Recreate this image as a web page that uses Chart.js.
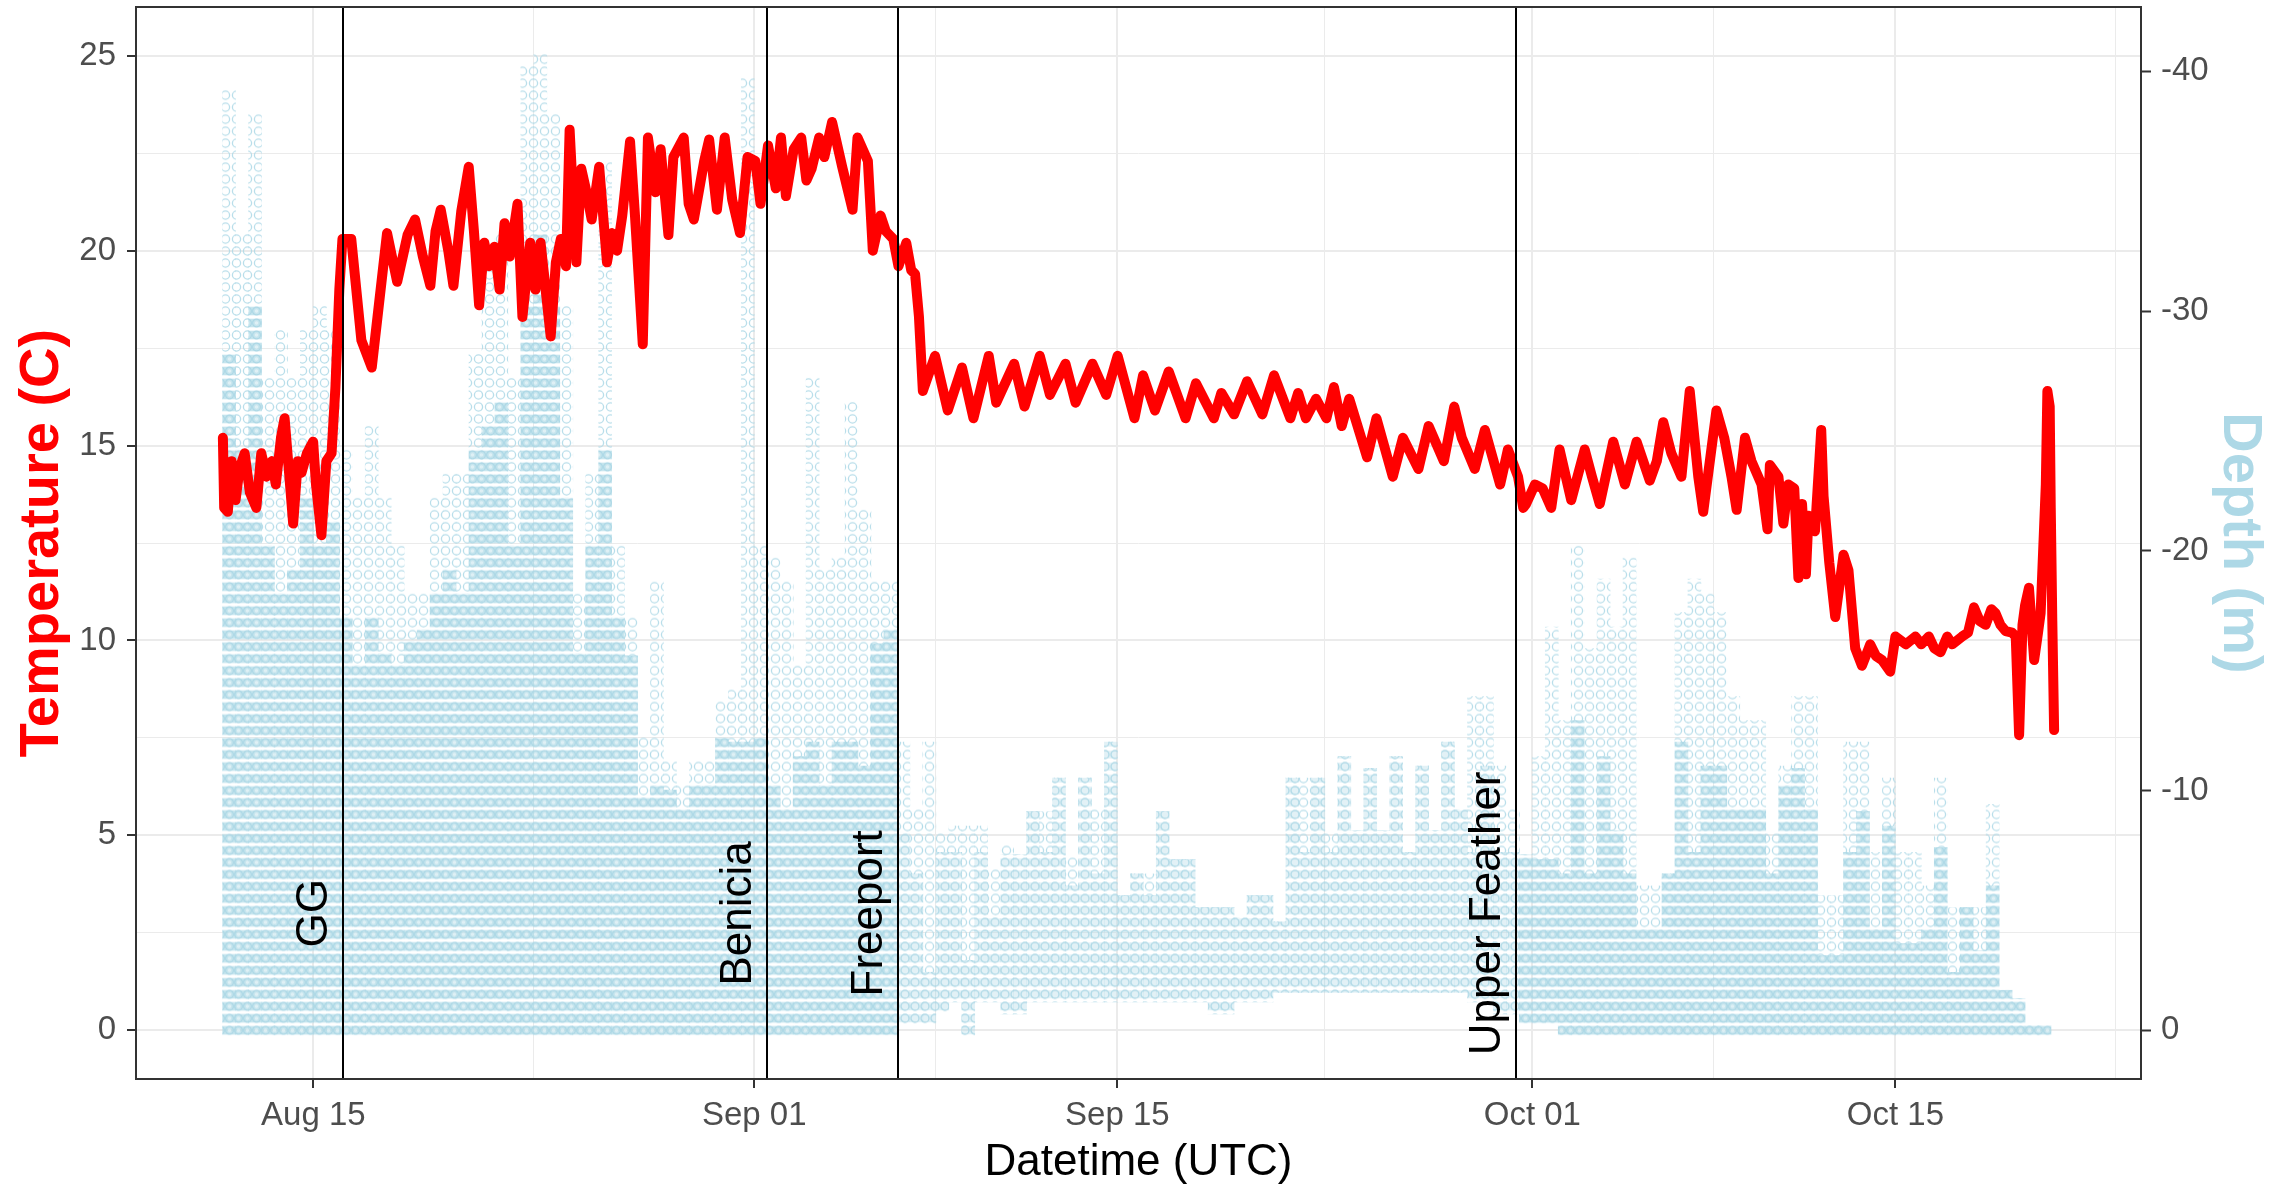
<!DOCTYPE html>
<html>
<head>
<meta charset="utf-8">
<script src="https://cdn.jsdelivr.net/npm/chart.js@4.4.1/dist/chart.umd.min.js"></script>
<style>
html,body{margin:0;padding:0;background:#ffffff;}
canvas{display:block;}
</style>
</head>
<body>
<canvas id="c" width="2289" height="1190"></canvas>
<script>
// ---------- axis ticks (x values are days counted from Jul 31, i.e. Aug 1 = 1) ----------
const xTickDays   = [15, 32, 46, 62, 76];
const xTickLabels = ['Aug 15', 'Sep 01', 'Sep 15', 'Oct 01', 'Oct 15'];
const xMinorDays  = [23.5, 39, 54, 69, 84.5];
const tempTicks      = [0, 5, 10, 15, 20, 25];
const tempMinorTicks = [2.5, 7.5, 12.5, 17.5, 22.5];
const depthTicks     = [0, -10, -20, -30, -40];

// ---------- receiver sites (vertical lines) ----------
const siteNames = ['GG', 'Benicia', 'Freeport', 'Upper Feather'];
const siteDays  = [16.15, 32.49, 37.56, 61.39];
const siteLabelTemp = 3;

// ---------- temperature series (C) ----------
const tempDays = [
 11.51,11.56,11.70,11.85,12.00,12.15,12.35,12.55,12.80,12.99,13.20,13.40,13.55,13.75,13.89,14.05,14.22,14.40,14.54,14.75,14.99,15.10,15.31,15.50,15.70,15.85,16.00,16.12,
 16.46,16.85,17.25,17.84,18.23,18.63,18.92,19.22,19.51,19.71,19.91,20.20,20.40,20.70,20.99,21.19,21.39,21.59,21.78,21.98,22.18,22.37,22.57,22.87,23.06,23.36,23.56,23.76,
 24.15,24.35,24.54,24.74,24.88,25.14,25.33,25.53,25.73,26.02,26.32,26.52,26.71,26.91,27.21,27.40,27.70,27.90,28.19,28.39,28.69,28.88,29.28,29.47,29.67,30.07,30.26,30.56,
 30.86,31.15,31.45,31.74,32.04,32.24,32.53,32.83,33.03,33.22,33.52,33.81,34.01,34.21,34.50,34.70,35.00,35.39,35.59,35.79,35.98,36.18,36.38,36.57,36.87,37.07,37.36,37.56,
 37.86,38.05,38.20,38.35,38.50,
 38.97,39.46,40.01,40.45,41.04,41.33,42.02,42.42,43.01,43.40,44.00,44.39,45.04,45.57,46.01,46.66,46.99,47.45,47.98,48.63,49.03,49.72,50.01,50.50,51.00,51.59,52.04,52.67,
 52.97,53.27,53.66,54.06,54.35,54.65,54.94,55.63,55.99,56.62,57.01,57.61,58.00,58.59,58.99,59.28,59.78,60.17,60.76,61.06,61.45,61.65,
 61.76,62.10,62.40,62.73,63.05,63.50,64.02,64.30,64.60,65.12,65.57,66.02,66.53,66.80,67.05,67.36,67.75,68.07,68.40,
 68.59,69.10,69.40,69.68,69.88,70.20,70.45,70.84,71.07,71.16,71.49,71.68,71.87,72.10,72.26,72.40,72.55,72.65,72.90,73.14,73.23,73.45,73.68,74.00,74.19,74.45,74.71,75.03,
 75.25,75.48,75.80,76.00,76.40,76.77,77.00,77.29,77.50,77.74,78.00,78.19,78.57,78.80,79.03,79.25,79.48,79.70,79.86,80.05,80.25,80.50,80.64,80.77,80.90,81.00,81.15,81.35,
 81.50,81.60,81.80,81.86,81.95,81.99,82.05,82.12
];
const tempValues = [
 15.2,13.4,13.3,14.6,13.6,14.4,14.8,13.8,13.4,14.8,14.2,14.6,14.0,15.2,15.7,14.4,13.0,14.6,14.3,14.8,15.1,14.0,12.7,14.6,14.8,16.5,19.0,20.3,
 20.3,17.7,17.0,20.45,19.2,20.4,20.8,19.85,19.1,20.5,21.05,20.0,19.1,21.0,22.15,20.5,18.6,20.2,19.6,20.1,19.0,20.7,19.85,21.2,18.3,20.2,19.0,20.2,
 17.8,19.7,20.3,19.6,23.1,19.7,22.1,21.5,20.8,22.15,19.7,20.45,20.0,20.9,22.8,20.9,17.6,22.9,21.5,22.6,20.4,22.4,22.9,21.2,20.8,22.3,22.85,21.05,
 22.9,21.3,20.45,22.4,22.3,21.2,22.7,21.6,22.9,21.4,22.6,22.9,21.8,22.1,22.9,22.4,23.3,22.15,21.6,21.05,22.9,22.6,22.3,20.0,20.9,20.5,20.3,19.6,
 20.2,19.5,19.4,18.3,16.4,
 17.3,15.9,17.0,15.7,17.3,16.1,17.1,16.0,17.3,16.3,17.1,16.1,17.1,16.3,17.3,15.7,16.8,15.9,16.9,15.7,16.6,15.7,16.35,15.8,16.65,15.8,16.8,15.7,
 16.35,15.7,16.2,15.7,16.5,15.5,16.2,14.7,15.7,14.2,15.2,14.4,15.5,14.6,16.0,15.2,14.4,15.4,14.0,14.9,14.2,13.4,
 13.5,14.0,13.9,13.4,14.9,13.6,14.9,14.2,13.5,15.1,14.0,15.1,14.1,14.6,15.6,14.8,14.2,16.4,14.2,
 13.3,15.9,15.2,14.2,13.35,15.2,14.6,14.0,12.85,14.5,14.2,13.0,14.0,13.9,11.6,13.5,11.7,13.2,12.8,15.4,13.7,12.0,10.6,12.2,11.8,9.8,9.35,9.9,
 9.6,9.5,9.2,10.1,9.9,10.1,9.9,10.1,9.8,9.7,10.1,9.9,10.1,10.2,10.85,10.5,10.4,10.8,10.7,10.4,10.24,10.2,10.1,7.57,10.4,10.9,11.35,9.5,
 10.2,10.7,14.0,16.4,16.0,13.4,10.5,7.7
];

// ---------- depth detections (m), summarised per half-day bin ----------
const depthDays = [
 11.75,12.25,12.75,13.25,13.75,14.25,14.75,15.25,15.75,16.25,
 16.75,17.25,17.75,18.25,18.75,19.25,19.75,20.25,20.75,21.25,
 21.75,22.25,22.75,23.25,23.75,24.25,24.75,25.25,25.75,26.25,
 26.75,27.25,27.75,28.25,28.75,29.25,29.75,30.25,30.75,31.25,
 31.75,32.25,32.75,33.25,33.75,34.25,34.75,35.25,35.75,36.25,
 36.75,37.25,37.75,38.25,38.75,39.25,39.75,40.25,40.75,41.25,
 41.75,42.25,42.75,43.25,43.75,44.25,44.75,45.25,45.75,46.25,
 46.75,47.25,47.75,48.25,48.75,49.25,49.75,50.25,50.75,51.25,
 51.75,52.25,52.75,53.25,53.75,54.25,54.75,55.25,55.75,56.25,
 56.75,57.25,57.75,58.25,58.75,59.25,59.75,60.25,60.75,61.25,
 61.75,62.25,62.75,63.25,63.75,64.25,64.75,65.25,65.75,66.25,
 66.75,67.25,67.75,68.25,68.75,69.25,69.75,70.25,70.75,71.25,
 71.75,72.25,72.75,73.25,73.75,74.25,74.75,75.25,75.75,76.25,
 76.75,77.25,77.75,78.25,78.75,79.25,79.75,80.25,80.75,81.25,
 81.75
];
// shallowest depth of the bin (rows start here)
const depthBottom = [
 0,0,0,0,0,0,0,0,0,0,
 0,0,0,0,0,0,0,0,0,0,
 0,0,0,0,0,0,0,0,0,0,
 0,0,0,0,0,0,0,0,0,0,
 0,0,0,0,0,0,0,0,0,0,
 0,0,-0.5,-0.5,-0.5,-1,-1.4,0,-1.4,-1.4,
 -0.9,-0.9,-1.4,-1.4,-1.4,-1.4,-1.4,-1.4,-1.4,-1.4,
 -1.4,-1.4,-1.4,-1.4,-1.4,-1.4,-0.9,-0.9,-1.4,-1.4,
 -1.4,-1.8,-1.8,-1.8,-1.8,-1.8,-1.8,-1.8,-1.8,-1.8,
 -1.8,-1.8,-1.8,-1.8,-1.8,-1.8,-1.4,-1.4,-0.9,-0.9,
 -0.5,-0.5,-0.5,0,0,0,0,0,0,0,
 0,0,0,0,0,0,0,0,0,0,
 0,0,0,0,0,0,0,0,0,0,
 0,0,0,0,0,0,0,0,0,0,
 0
];
// deepest depth of the closely packed detections
const depthDenseTop = [
 -28,-24,-30,-20,-18,-19,-22,-20,-21,-17,
 -15,-17,-15.5,-15,-16,-16.5,-18,-19,-18,-24,
 -25,-26,-20,-30,-33,-30,-22,-15.5,-20,-24,
 -17,-15.4,-9.5,-10,-9.8,-9,-10,-10,-12,-11.8,
 -11.8,-12,-10,-9,-11.2,-11.8,-10,-11.8,-11.8,-10.8,
 -15.9,-16.5,-8,-6.3,-2.2,-7.2,-7.2,-2.7,-7.2,-4.5,
 -7.1,-7.1,-8.9,-7.2,-10.3,-5.8,-10.3,-6.3,-11.8,-5.4,
 -6.3,-5.4,-8.9,-6.9,-6.9,-4.9,-4.9,-4.9,-4.5,-5.4,
 -5.4,-4.3,-10.3,-7.2,-10.3,-7.2,-11.2,-8.1,-10.7,-8.1,
 -11.2,-7.2,-10.8,-8.1,-11.8,-9,-7.2,-10.8,-7.2,-7.2,
 -7.1,-6.9,-6.9,-6.3,-12.7,-6.3,-11.2,-8.1,-6.3,-4,
 -4,-6.3,-11.8,-7.2,-10.8,-10.8,-9,-9,-9,-6.3,
 -10,-10.7,-9,-2.9,-2.9,-7.2,-8.9,-4,-8.3,-3.4,
 -3.4,-4,-7.4,-2.2,-4.9,-3.1,-5.8,-1.45,-1.1,0,
 0
];
// how tightly packed that part is: 2 = overlapping circles, 1 = separate circles
const depthDensity = [
 2,2,2,2,2,2,2,2,2,2,
 2,2,2,2,2,2,2,2,2,2,
 2,2,2,2,2,2,2,2,2,2,
 2,2,2,2,2,2,2,2,2,2,
 2,2,2,2,2,2,2,2,2,2,
 2,2,1,1,1,1,1,1,1,1,
 1,1,1,1,1,1,1,1,1,1,
 1,1,1,1,1,1,1,1,1,1,
 1,1,1,1,1,1,1,1,1,1,
 1,1,1,1,1,1,1,1,1,1,
 2,2,2,2,2,2,2,2,2,2,
 2,2,2,2,2,2,2,2,2,2,
 2,2,2,2,2,2,2,2,2,2,
 2,2,2,2,2,2,2,2,2,2,
 2
];
// deepest scattered detections of the bin
const depthSparseTop = [
 -39,-33,-38,-27,-29,-27,-29,-30,-29,-24,
 -22,-25,-22,-20,-18,-18,-22,-23,-23,-28,
 -32,-33,-27,-40,-40.5,-38,-30,-18,-23,-36,
 -20,-17,-12,-18.5,-11,-10,-11,-11,-13.5,-14,
 -39.5,-20,-19.5,-18.5,-15,-27,-19,-19.5,-26,-21.5,
 -18.5,-18.5,-11.8,-9,-11.8,-8,-8.3,-8.3,-8.3,-6.5,
 -7.5,-7.1,-8.9,-8.9,-10.3,-7,-10.3,-9,-11.8,-5.4,
 -6.3,-6.3,-8.9,-6.9,-6.9,-4.9,-4.9,-4.9,-4.5,-5.4,
 -5.4,-4.3,-10.3,-10.3,-10.3,-8,-11.2,-8.1,-10.7,-8.1,
 -11.2,-7.2,-10.8,-8.1,-11.8,-9,-13.7,-13.7,-10.8,-9,
 -7.1,-11.2,-16.6,-12.7,-20,-15.7,-18.6,-16.6,-19.5,-5.8,
 -5.8,-6.3,-17.2,-18.6,-18,-17.2,-13.7,-12.7,-12.7,-8,
 -10.8,-13.7,-13.7,-5.4,-5.4,-11.8,-11.8,-7.2,-10.3,-7.2,
 -7.2,-5.8,-10.3,-4.9,-4.9,-4.9,-9.2,-1.45,-1.1,0,
 0
];

// ---------- styling ----------
const FONT = '"Liberation Sans", Arial, Helvetica, sans-serif';
const GRID = '#EBEBEB';
const DARK = '#333333';
const TICKTXT = '#4D4D4D';
const LIGHTBLUE = '#ADD8E6';
const CIRCLE_HALF = 0.22;   // half a marker, in metres
Chart.defaults.font.family = FONT;

const xAll = xTickDays.concat(xMinorDays).sort((a, b) => a - b);
const yAll = tempTicks.concat(tempMinorTicks).sort((a, b) => a - b);
const isXMajor = v => xTickDays.includes(v);
const isYMajor = v => tempTicks.includes(v);

// hollow-circle textures for the depth detections
const patCache = {};
function depthPattern(chart, kind) {
  const ys = chart.scales && chart.scales.yD;
  if (!ys || !isFinite(ys.getPixelForValue(0))) return 'rgba(173,216,230,0.7)';
  const y0 = ys.getPixelForValue(0);
  const rowPx = Math.abs(ys.getPixelForValue(-0.5) - y0);
  const key = kind + '|' + y0.toFixed(2) + '|' + rowPx.toFixed(3);
  if (patCache[key]) return patCache[key];
  const H = 12;
  const W = kind === 'dense' ? 9 : (kind === 'medium' ? 10 : 11);
  const c = document.createElement('canvas');
  c.width = W; c.height = H;
  const g = c.getContext('2d');
  if (kind === 'dense') {
    g.fillStyle = 'rgba(173,216,230,0.70)';
    g.fillRect(0, 1.7, W, 8.6);
    g.strokeStyle = 'rgba(173,216,230,1)';
    g.lineWidth = 1.2;
    g.beginPath(); g.arc(W / 2, H / 2, 3.9, 0, Math.PI * 2); g.stroke();
    g.fillStyle = 'rgba(255,255,255,0.45)';
    g.beginPath(); g.arc(W / 2, H / 2, 1.8, 0, Math.PI * 2); g.fill();
  } else if (kind === 'medium') {
    g.fillStyle = 'rgba(173,216,230,0.35)';
    g.fillRect(0, 2, W, 8);
    g.strokeStyle = 'rgba(173,216,230,0.95)';
    g.lineWidth = 1.3;
    g.beginPath(); g.arc(W / 2, H / 2, 4.0, 0, Math.PI * 2); g.stroke();
  } else {
    g.strokeStyle = 'rgba(173,216,230,0.85)';
    g.lineWidth = 1.3;
    g.beginPath(); g.arc(W / 2, H / 2, 4.1, 0, Math.PI * 2); g.stroke();
  }
  const pat = chart.ctx.createPattern(c, 'repeat');
  pat.setTransform(new DOMMatrix([1, 0, 0, rowPx / H, 0, y0 - rowPx / 2]));
  patCache[key] = pat;
  return pat;
}

const overlayPlugin = {
  id: 'overlay',
  afterDatasetsDraw(chart) {
    const {ctx, chartArea, scales} = chart;
    ctx.save();
    ctx.beginPath();
    ctx.rect(chartArea.left, chartArea.top, chartArea.width, chartArea.height);
    ctx.clip();
    ctx.strokeStyle = '#000000';
    ctx.lineWidth = 2;
    siteDays.forEach(d => {
      const x = Math.round(scales.x.getPixelForValue(d));
      ctx.beginPath();
      ctx.moveTo(x, chartArea.top);
      ctx.lineTo(x, chartArea.bottom);
      ctx.stroke();
    });
    ctx.fillStyle = '#000000';
    ctx.font = '44px ' + FONT;
    ctx.textAlign = 'center';
    ctx.textBaseline = 'alphabetic';
    const y = scales.yT.getPixelForValue(siteLabelTemp);
    siteDays.forEach((d, i) => {
      const x = scales.x.getPixelForValue(d) - 16;
      ctx.save();
      ctx.translate(x, y);
      ctx.rotate(-Math.PI / 2);
      ctx.fillText(siteNames[i], 0, 0);
      ctx.restore();
    });
    ctx.restore();
  },
  afterDraw(chart) {
    const {ctx, chartArea} = chart;
    ctx.save();
    ctx.strokeStyle = DARK;
    ctx.lineWidth = 2;
    ctx.strokeRect(Math.round(chartArea.left), Math.round(chartArea.top),
                   Math.round(chartArea.right) - Math.round(chartArea.left),
                   Math.round(chartArea.bottom) - Math.round(chartArea.top));
    ctx.restore();
  }
};

const zeroPad = s => { s.paddingTop = 0; s.paddingBottom = 0; s.paddingLeft = 0; s.paddingRight = 0; };

const denseData = depthDays.map((d, i) => ({x: d, y: [depthBottom[i] + CIRCLE_HALF, depthDenseTop[i] - CIRCLE_HALF]}));
const sparseData = depthDays.map((d, i) => ({x: d, y: [depthDenseTop[i] - CIRCLE_HALF, Math.min(depthSparseTop[i], depthDenseTop[i]) - CIRCLE_HALF]}));
const tempData = tempDays.map((d, i) => ({x: d, y: tempValues[i]}));

new Chart(document.getElementById('c'), {
  type: 'bar',
  data: {
    datasets: [
      {
        type: 'line', label: 'Temperature', data: tempData,
        xAxisID: 'x', yAxisID: 'yT',
        borderColor: '#FF0000', borderWidth: 10, pointRadius: 0,
        tension: 0, fill: false, borderJoinStyle: 'round', borderCapStyle: 'round',
        order: 0
      },
      {
        type: 'bar', label: 'Depth packed', data: denseData,
        xAxisID: 'x', yAxisID: 'yD',
        backgroundColor: ctx => depthPattern(ctx.chart, depthDensity[ctx.dataIndex] === 2 ? 'dense' : 'medium'),
        borderWidth: 0, barPercentage: 1, categoryPercentage: 1, grouped: false,
        order: 2
      },
      {
        type: 'bar', label: 'Depth scattered', data: sparseData,
        xAxisID: 'x', yAxisID: 'yD',
        backgroundColor: ctx => depthPattern(ctx.chart, 'sparse'),
        borderWidth: 0, barPercentage: 1, categoryPercentage: 1, grouped: false,
        order: 3
      }
    ]
  },
  options: {
    responsive: false,
    animation: false,
    devicePixelRatio: 1,
    events: [],
    layout: {padding: {top: 7, left: 0, right: 0, bottom: 0}},
    plugins: {legend: {display: false}, tooltip: {enabled: false}},
    scales: {
      x: {
        type: 'linear', position: 'bottom', min: 8.16, max: 85.47, offset: false,
        afterBuildTicks: s => { s.ticks = xAll.map(v => ({value: v})); },
        afterFit: s => { s.height = 111; zeroPad(s); },
        ticks: {
          autoSkip: false, maxRotation: 0, minRotation: 0, padding: 8,
          color: TICKTXT, font: {size: 33, family: FONT},
          callback: v => { const i = xTickDays.indexOf(v); return i >= 0 ? xTickLabels[i] : ''; }
        },
        grid: {
          offset: false,
          color: GRID,
          lineWidth: c => (c.tick && isXMajor(c.tick.value)) ? 2 : 1,
          drawTicks: true, tickLength: 9, tickWidth: 2,
          tickColor: c => (c.tick && isXMajor(c.tick.value)) ? DARK : 'rgba(0,0,0,0)'
        },
        border: {display: false},
        title: {display: true, text: 'Datetime (UTC)', color: '#000000',
                font: {size: 44, family: FONT}, padding: {top: 0, bottom: 1}}
      },
      yT: {
        type: 'linear', position: 'left', min: -1.25, max: 26.25,
        afterBuildTicks: s => { s.ticks = yAll.map(v => ({value: v})); },
        afterFit: s => { s.width = 136; zeroPad(s); },
        ticks: {
          padding: 11, color: TICKTXT, font: {size: 33, family: FONT},
          callback: v => isYMajor(v) ? String(v) : ''
        },
        grid: {
          offset: false,
          color: GRID,
          lineWidth: c => (c.tick && isYMajor(c.tick.value)) ? 2 : 1,
          drawTicks: true, tickLength: 9, tickWidth: 2,
          tickColor: c => (c.tick && isYMajor(c.tick.value)) ? DARK : 'rgba(0,0,0,0)'
        },
        border: {display: false},
        title: {display: true, text: 'Temperature (C)', color: '#FF0000',
                font: {size: 56, weight: 'bold', family: FONT}, padding: {top: 9, bottom: 0}}
      },
      yD: {
        type: 'linear', position: 'right', reverse: true, min: -42.68, max: 2.033,
        afterBuildTicks: s => { s.ticks = depthTicks.map(v => ({value: v})); },
        afterFit: s => { s.width = 148; zeroPad(s); },
        ticks: {
          padding: 10, color: TICKTXT, font: {size: 33, family: FONT},
          callback: v => String(v)
        },
        grid: {offset: false, drawOnChartArea: false, drawTicks: true, tickLength: 10, tickWidth: 2, tickColor: DARK},
        border: {display: false},
        title: {display: true, text: 'Depth (m)', color: LIGHTBLUE,
                font: {size: 56, weight: 'bold', family: FONT}, padding: {top: 16, bottom: 0}}
      }
    }
  },
  plugins: [overlayPlugin]
});
</script>
</body>
</html>
